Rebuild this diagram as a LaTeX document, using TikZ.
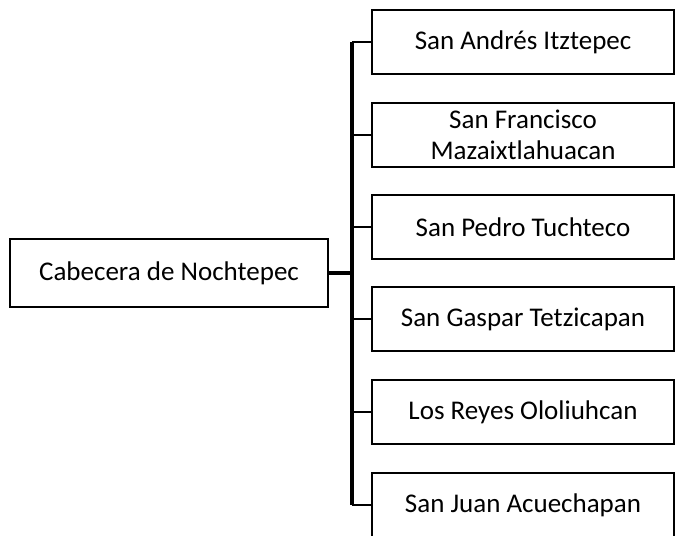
\documentclass[tikz,border=0pt]{standalone}
\usepackage{fontspec}
\setmainfont{Carlito}
\begin{document}
\begin{tikzpicture}[x=1pt,y=1pt,
  box/.style={draw=black,line width=2.4pt,fill=white,inner sep=0pt,align=center,
    font=\fontsize{27}{31}\selectfont},
  leftbox/.style={box,minimum width=318pt,minimum height=68pt},
  rightbox/.style={box,minimum width=302pt,minimum height=64pt},
  branch/.style={draw=black,line width=2.2pt},
  trunk/.style={draw=black,line width=3.2pt}]
\useasboundingbox (0,0) rectangle (676,-535);
\node[leftbox] (root) at (169,-273) {Cabecera de Nochtepec};
\node[rightbox] (a) at (523,-42) {San Andrés Itztepec};
\node[rightbox] (b) at (523,-135) {San Francisco\\Mazaixtlahuacan};
\node[rightbox] (c) at (523,-227) {San Pedro Tuchteco};
\node[rightbox] (d) at (523,-319) {San Gaspar Tetzicapan};
\node[rightbox] (e) at (523,-412) {Los Reyes Ololiuhcan};
\node[rightbox] (f) at (523,-505) {San Juan Acuechapan};
\coordinate (top) at (352,-42);
\coordinate (bot) at (352,-505);
\draw[trunk] (top) -- (bot);
\draw[trunk] (root.east) -- (root.east -| top);
\foreach \n in {a,b,c,d,e,f}{
  \draw[branch] (\n.west -| top) -- (\n.west);
}
\end{tikzpicture}
\end{document}
